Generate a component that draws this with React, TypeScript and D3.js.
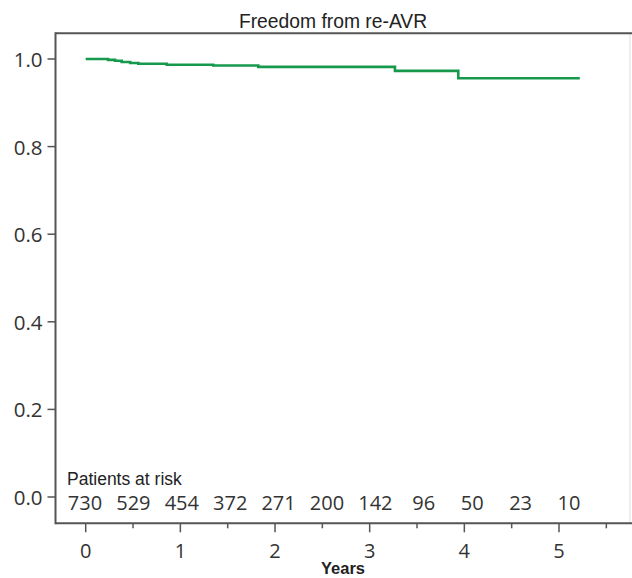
import React from "react";
import * as d3 from "d3";

const title = "Freedom from re-AVR";
const xLabel = "Years";
const atRiskTitle = "Patients at risk";

// Kaplan-Meier steps (time in years, survival)
const stepTimes = [0, 0.236, 0.31, 0.38, 0.47, 0.556, 0.856, 1.348, 1.823, 3.267, 3.936];
const stepSurv = [1.0, 0.998, 0.996, 0.993, 0.991, 0.989, 0.987, 0.985, 0.982, 0.973, 0.956];
const endTime = 5.22;

const atRisk = [730, 529, 454, 372, 271, 200, 142, 96, 50, 23, 10];

const xTicks = [0, 1, 2, 3, 4, 5];
const xMinorTicks = [0.5, 1.5, 2.5, 3.5, 4.5, 5.5];
const yTicks = [0, 0.2, 0.4, 0.6, 0.8, 1.0];

const W = 632;
const H = 578;
const left = 55.5;
const right = 630;
const top = 33.3;
const bottom = 523.3;

export default function App() {
  const x = d3.scaleLinear().domain([0, 5]).range([85.7, 559]);
  const y = d3.scaleLinear().domain([0, 1]).range([497, 59]);

  const pts: [number, number][] = stepTimes.map((t, i) => [t, stepSurv[i]]);
  pts.push([endTime, stepSurv[stepSurv.length - 1]]);
  const line = d3
    .line<[number, number]>()
    .x((d) => x(d[0]))
    .y((d) => y(d[1]))
    .curve(d3.curveStepAfter);

  const riskScale = d3
    .scalePoint<string>()
    .domain(atRisk.map((d, i) => String(i)))
    .range([85, 569]);

  const axisColor = "#555";
  const tickFont = "'Open Sans', 'Noto Sans', sans-serif";
  const arialFont = "'Liberation Sans', Arial, sans-serif";

  return (
    <svg
      width={W}
      height={H}
      style={{ position: "absolute", left: 0, top: 0, background: "#fff" }}
    >
      <rect x={0} y={0} width={W} height={H} fill="#fff" />
      <text
        x={333}
        y={28}
        textAnchor="middle"
        fontFamily={arialFont}
        fontSize={19.3}
        fill="#222"
      >
        {title}
      </text>

      {/* frame */}
      <line x1={right} x2={right} y1={top} y2={bottom} stroke="#ddd" strokeWidth={1} />
      <line x1={left} x2={W} y1={top} y2={top} stroke={axisColor} strokeWidth={2} />
      <line x1={left} x2={W} y1={bottom} y2={bottom} stroke={axisColor} strokeWidth={2} />
      <line x1={left} x2={left} y1={top - 1} y2={bottom + 1} stroke={axisColor} strokeWidth={2} />

      {/* y ticks */}
      {yTicks.map((t) => (
        <g key={"y" + t}>
          <line x1={left - 8} x2={left} y1={y(t)} y2={y(t)} stroke={axisColor} strokeWidth={1.5} />
          <text
            x={left - 13}
            y={y(t)}
            textAnchor="end"
            dominantBaseline="central"
            fontFamily={tickFont}
            fontSize={20.5}
            fill="#333"
          >
            {t.toFixed(1)}
          </text>
        </g>
      ))}

      {/* x ticks */}
      {xTicks.map((t) => (
        <g key={"x" + t}>
          <line x1={x(t)} x2={x(t)} y1={bottom} y2={bottom + 9} stroke={axisColor} strokeWidth={1.5} />
          <text
            x={x(t)}
            y={550}
            textAnchor="middle"
            dominantBaseline="central"
            fontFamily={tickFont}
            fontSize={20}
            fill="#333"
          >
            {t}
          </text>
        </g>
      ))}
      {xMinorTicks.map((t) => (
        <line key={"m" + t} x1={x(t)} x2={x(t)} y1={bottom} y2={bottom + 5} stroke={axisColor} strokeWidth={1.5} />
      ))}

      <text
        x={343}
        y={574}
        textAnchor="middle"
        fontFamily={arialFont}
        fontWeight="bold"
        fontSize={16.5}
        fill="#222"
      >
        {xLabel}
      </text>

      {/* curve */}
      <path d={line(pts) || ""} fill="none" stroke="#16994c" strokeWidth={2.6} />

      {/* at risk */}
      <text x={67} y={485} fontFamily={arialFont} fontSize={17.5} fill="#222">
        {atRiskTitle}
      </text>
      {atRisk.map((n, i) => (
        <text
          key={"r" + i}
          x={riskScale(String(i))}
          y={509.5}
          textAnchor="middle"
          fontFamily={tickFont}
          fontSize={20}
          fill="#333"
        >
          {n}
        </text>
      ))}
    </svg>
  );
}
